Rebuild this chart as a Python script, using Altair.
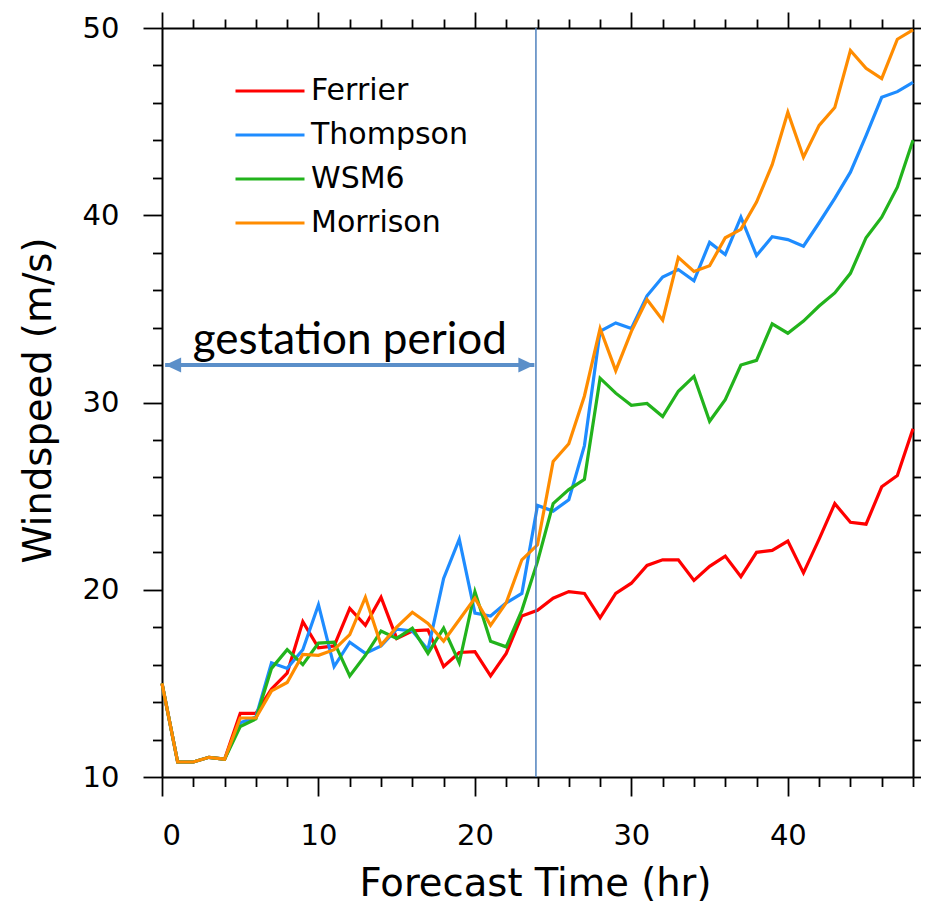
import altair as alt
import pandas as pd

hours = list(range(49))
models = ["Ferrier", "Thompson", "WSM6", "Morrison"]
colors = ["#ff0000", "#1e8cff", "#22b31c", "#ff8c00"]

ferrier = [15.0, 10.8, 10.8, 11.05, 10.95, 13.4, 13.4, 14.7, 15.55, 18.3,
           16.9, 17.0, 19.0, 18.1, 19.6, 17.4, 17.8, 17.86, 15.9, 16.65,
           16.7, 15.4, 16.6, 18.6, 18.9, 19.55, 19.9, 19.8, 18.5, 19.8,
           20.35, 21.3, 21.6, 21.6, 20.5, 21.25, 21.8, 20.7, 22.0, 22.1,
           22.6, 20.9, 22.7, 24.6, 23.6, 23.5, 25.5, 26.1, 28.6]
thompson = [15.0, 10.8, 10.8, 11.05, 10.95, 12.9, 13.2, 16.1, 15.8, 16.8,
            19.2, 15.9, 17.2, 16.6, 17.0, 17.9, 17.8, 16.8, 20.6, 22.7,
            18.75, 18.6, 19.3, 19.8, 24.5, 24.2, 24.8, 27.7, 33.8, 34.25,
            33.95, 35.7, 36.7, 37.1, 36.5, 38.55, 37.9, 39.9, 37.85, 38.85,
            38.7, 38.35, 39.6, 40.9, 42.3, 44.25, 46.3, 46.6, 47.1]
wsm6 = [15.0, 10.8, 10.8, 11.05, 10.95, 12.7, 13.1, 15.8, 16.8, 16.0,
        17.15, 17.2, 15.4, 16.5, 17.8, 17.4, 17.95, 16.6, 17.95, 16.1,
        19.9, 17.25, 16.95, 18.9, 21.5, 24.6, 25.35, 25.9, 31.3, 30.5,
        29.85, 29.95, 29.25, 30.6, 31.4, 29.0, 30.15, 32.0, 32.25, 34.2,
        33.7, 34.35, 35.15, 35.85, 36.9, 38.8, 39.9, 41.5, 44.0]
morrison = [15.0, 10.8, 10.8, 11.05, 10.95, 13.15, 13.15, 14.6, 15.05, 16.55,
            16.5, 16.8, 17.6, 19.6, 17.05, 18.0, 18.8, 18.2, 17.25, 18.4,
            19.55, 18.1, 19.3, 21.6, 22.4, 26.85, 27.8, 30.35, 33.95, 31.7,
            33.8, 35.5, 34.4, 37.75, 37.0, 37.3, 38.8, 39.25, 40.7, 42.7,
            45.5, 43.1, 44.8, 45.75, 48.8, 47.85, 47.3, 49.4, 49.9]

x_ticks = list(range(0, 49, 2))
y_ticks = list(range(10, 51, 2))

# annotations
marker_hour = [23.9]
arrow_start = [0.2]
arrow_end = [23.8]
arrow_level = [32.0]
label_hour = [12.0]
label_level = [32.57]
label_text = ["gestation period"]

rows = []
for name, vals in zip(models, [ferrier, thompson, wsm6, morrison]):
    for h, v in zip(hours, vals):
        rows.append({"hour": h, "speed": v, "model": name})
df = pd.DataFrame(rows)

xscale = alt.Scale(domain=[0, 48], nice=False, zero=False)
yscale = alt.Scale(domain=[10, 50], nice=False, zero=False)

FONT = "DejaVu Sans"
major_x = {"condition": {"test": "datum.value % 10 === 0", "value": 19}, "value": 9.5}
major_y = {"condition": {"test": "datum.value % 10 === 0", "value": 19}, "value": 9.5}
major_x2 = {"condition": {"test": "datum.value % 10 === 0", "value": 16}, "value": 9}

lines = alt.Chart(df).mark_line(strokeWidth=3.2).encode(
    x=alt.X("hour:Q", scale=xscale,
            axis=alt.Axis(orient="bottom", values=x_ticks, tickSize=major_x,
                          labelExpr="datum.value % 10 === 0 ? datum.label : ''",
                          title="Forecast Time (hr)", titleFont=FONT, titleFontSize=38.5,
                          titleFontWeight="normal", titleX=373, titleY=118,
                          titleBaseline="alphabetic", titleAlign="center",
                          labelFont=FONT, labelFontSize=29, labelPadding=25,
                          grid=False)),
    y=alt.Y("speed:Q", scale=yscale,
            axis=alt.Axis(orient="left", values=y_ticks, tickSize=major_y,
                          labelExpr="datum.value % 10 === 0 ? datum.label : ''",
                          title="Windspeed (m/s)", titleFont=FONT, titleFontSize=38.5,
                          titleFontWeight="normal", titleX=-124, titleY=372,
                          titleAngle=270, titleBaseline="middle", titleAlign="center",
                          labelFont=FONT, labelFontSize=29, labelPadding=24,
                          grid=False)),
    color=alt.Color("model:N", sort=models,
                    scale=alt.Scale(domain=models, range=colors),
                    legend=alt.Legend(title=None, orient="none", legendX=93, legendY=48,
                                      symbolType="M-3,0H3", symbolSize=529,
                                      symbolStrokeWidth=3, labelFontSize=30,
                                      labelFont=FONT, labelOffset=26, rowPadding=14,
                                      padding=0, labelColor="black")),
    order=alt.Order("model_order:Q"),
).transform_calculate(
    model_order="indexof(['Ferrier','Thompson','WSM6','Morrison'], datum.model)"
)

marker_df = pd.DataFrame({"h": marker_hour, "lo": [10], "hi": [50]})
vline = alt.Chart(marker_df).mark_rule(color="#4f81bd", strokeWidth=1.5).encode(
    x=alt.X("h:Q", scale=xscale,
            axis=alt.Axis(orient="top", values=x_ticks, tickSize=major_x2, labels=False,
                          title=None, grid=False)),
    y=alt.Y("lo:Q", scale=yscale,
            axis=alt.Axis(orient="right", values=y_ticks, tickSize=major_x2, labels=False,
                          title=None, grid=False)),
    y2="hi:Q",
)

arrow_df = pd.DataFrame({"a": arrow_start, "b": arrow_end, "y": arrow_level})
arrow_color = "#5b8fc9"
arrow_line = alt.Chart(arrow_df).mark_rule(color=arrow_color, strokeWidth=4).encode(
    x=alt.X("a:Q", scale=xscale, axis=None),
    x2="b:Q",
    y=alt.Y("y:Q", scale=yscale, axis=None),
)
head_left = alt.Chart(arrow_df).mark_point(
    shape="M0,0L1.6,-0.75L1.6,0.75Z", size=400, filled=True, opacity=1,
    color=arrow_color).encode(
    x=alt.X("a:Q", scale=xscale, axis=None),
    y=alt.Y("y:Q", scale=yscale, axis=None),
)
head_right = alt.Chart(arrow_df).mark_point(
    shape="M0,0L-1.6,-0.75L-1.6,0.75Z", size=400, filled=True, opacity=1,
    color=arrow_color).encode(
    x=alt.X("b:Q", scale=xscale, axis=None),
    y=alt.Y("y:Q", scale=yscale, axis=None),
)

label_df = pd.DataFrame({"h": label_hour, "v": label_level, "t": label_text})
label = alt.Chart(label_df).mark_text(
    font="Lato", fontSize=44, color="black", align="center", baseline="alphabetic"
).encode(
    x=alt.X("h:Q", scale=xscale, axis=None),
    y=alt.Y("v:Q", scale=yscale, axis=None),
    text="t:N",
)

chart = alt.layer(lines, vline, arrow_line, head_left, head_right, label).resolve_axis(
    x="independent", y="independent"
).properties(
    width=751, height=749,
    autosize=alt.AutoSizeParams(type="none"),
    padding={"left": 154, "top": 20, "right": 8, "bottom": 130},
).configure_view(stroke=None).configure_axis(
    domainColor="black", domainWidth=2, tickColor="black", tickWidth=1.8,
    labelColor="black", titleColor="black"
)

chart.save("out.html", embed_options={"renderer": "svg", "actions": False})
